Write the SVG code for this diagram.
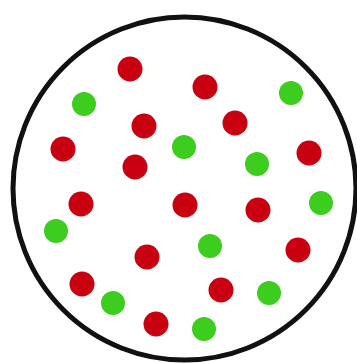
<svg xmlns="http://www.w3.org/2000/svg" width="357" height="363" viewBox="0 0 357 363">
<style>
.r{fill:#c8000f}
.g{fill:#3ccd1e}
</style>
<rect width="357" height="363" fill="#fff"/>
<g id="boundary"><circle cx="184.5" cy="188.5" r="171.5" fill="#fff" stroke="#111" stroke-width="5"/></g>
<g id="dots">
<circle class="r" cx="130" cy="69" r="12.5"/>
<circle class="g" cx="84" cy="104" r="12"/>
<circle class="r" cx="144" cy="126" r="12.5"/>
<circle class="r" cx="63" cy="149" r="12.5"/>
<circle class="r" cx="135" cy="167" r="12.5"/>
<circle class="g" cx="184" cy="147" r="12"/>
<circle class="r" cx="205" cy="87" r="12.5"/>
<circle class="g" cx="291" cy="93" r="12"/>
<circle class="r" cx="235" cy="123" r="12.5"/>
<circle class="g" cx="257" cy="164" r="12"/>
<circle class="r" cx="309" cy="153" r="12.5"/>
<circle class="r" cx="81" cy="204" r="12.5"/>
<circle class="g" cx="56" cy="231" r="12"/>
<circle class="r" cx="147" cy="257" r="12.5"/>
<circle class="r" cx="82" cy="284" r="12.5"/>
<circle class="g" cx="113" cy="303" r="12"/>
<circle class="r" cx="156" cy="324" r="12.5"/>
<circle class="r" cx="185" cy="205" r="12.5"/>
<circle class="r" cx="258" cy="210" r="12.5"/>
<circle class="g" cx="321" cy="203" r="12"/>
<circle class="g" cx="210" cy="246" r="12"/>
<circle class="r" cx="298" cy="250" r="12.5"/>
<circle class="r" cx="221" cy="290" r="12.5"/>
<circle class="g" cx="269" cy="293" r="12"/>
<circle class="g" cx="204" cy="329" r="12"/>
</g>
</svg>
